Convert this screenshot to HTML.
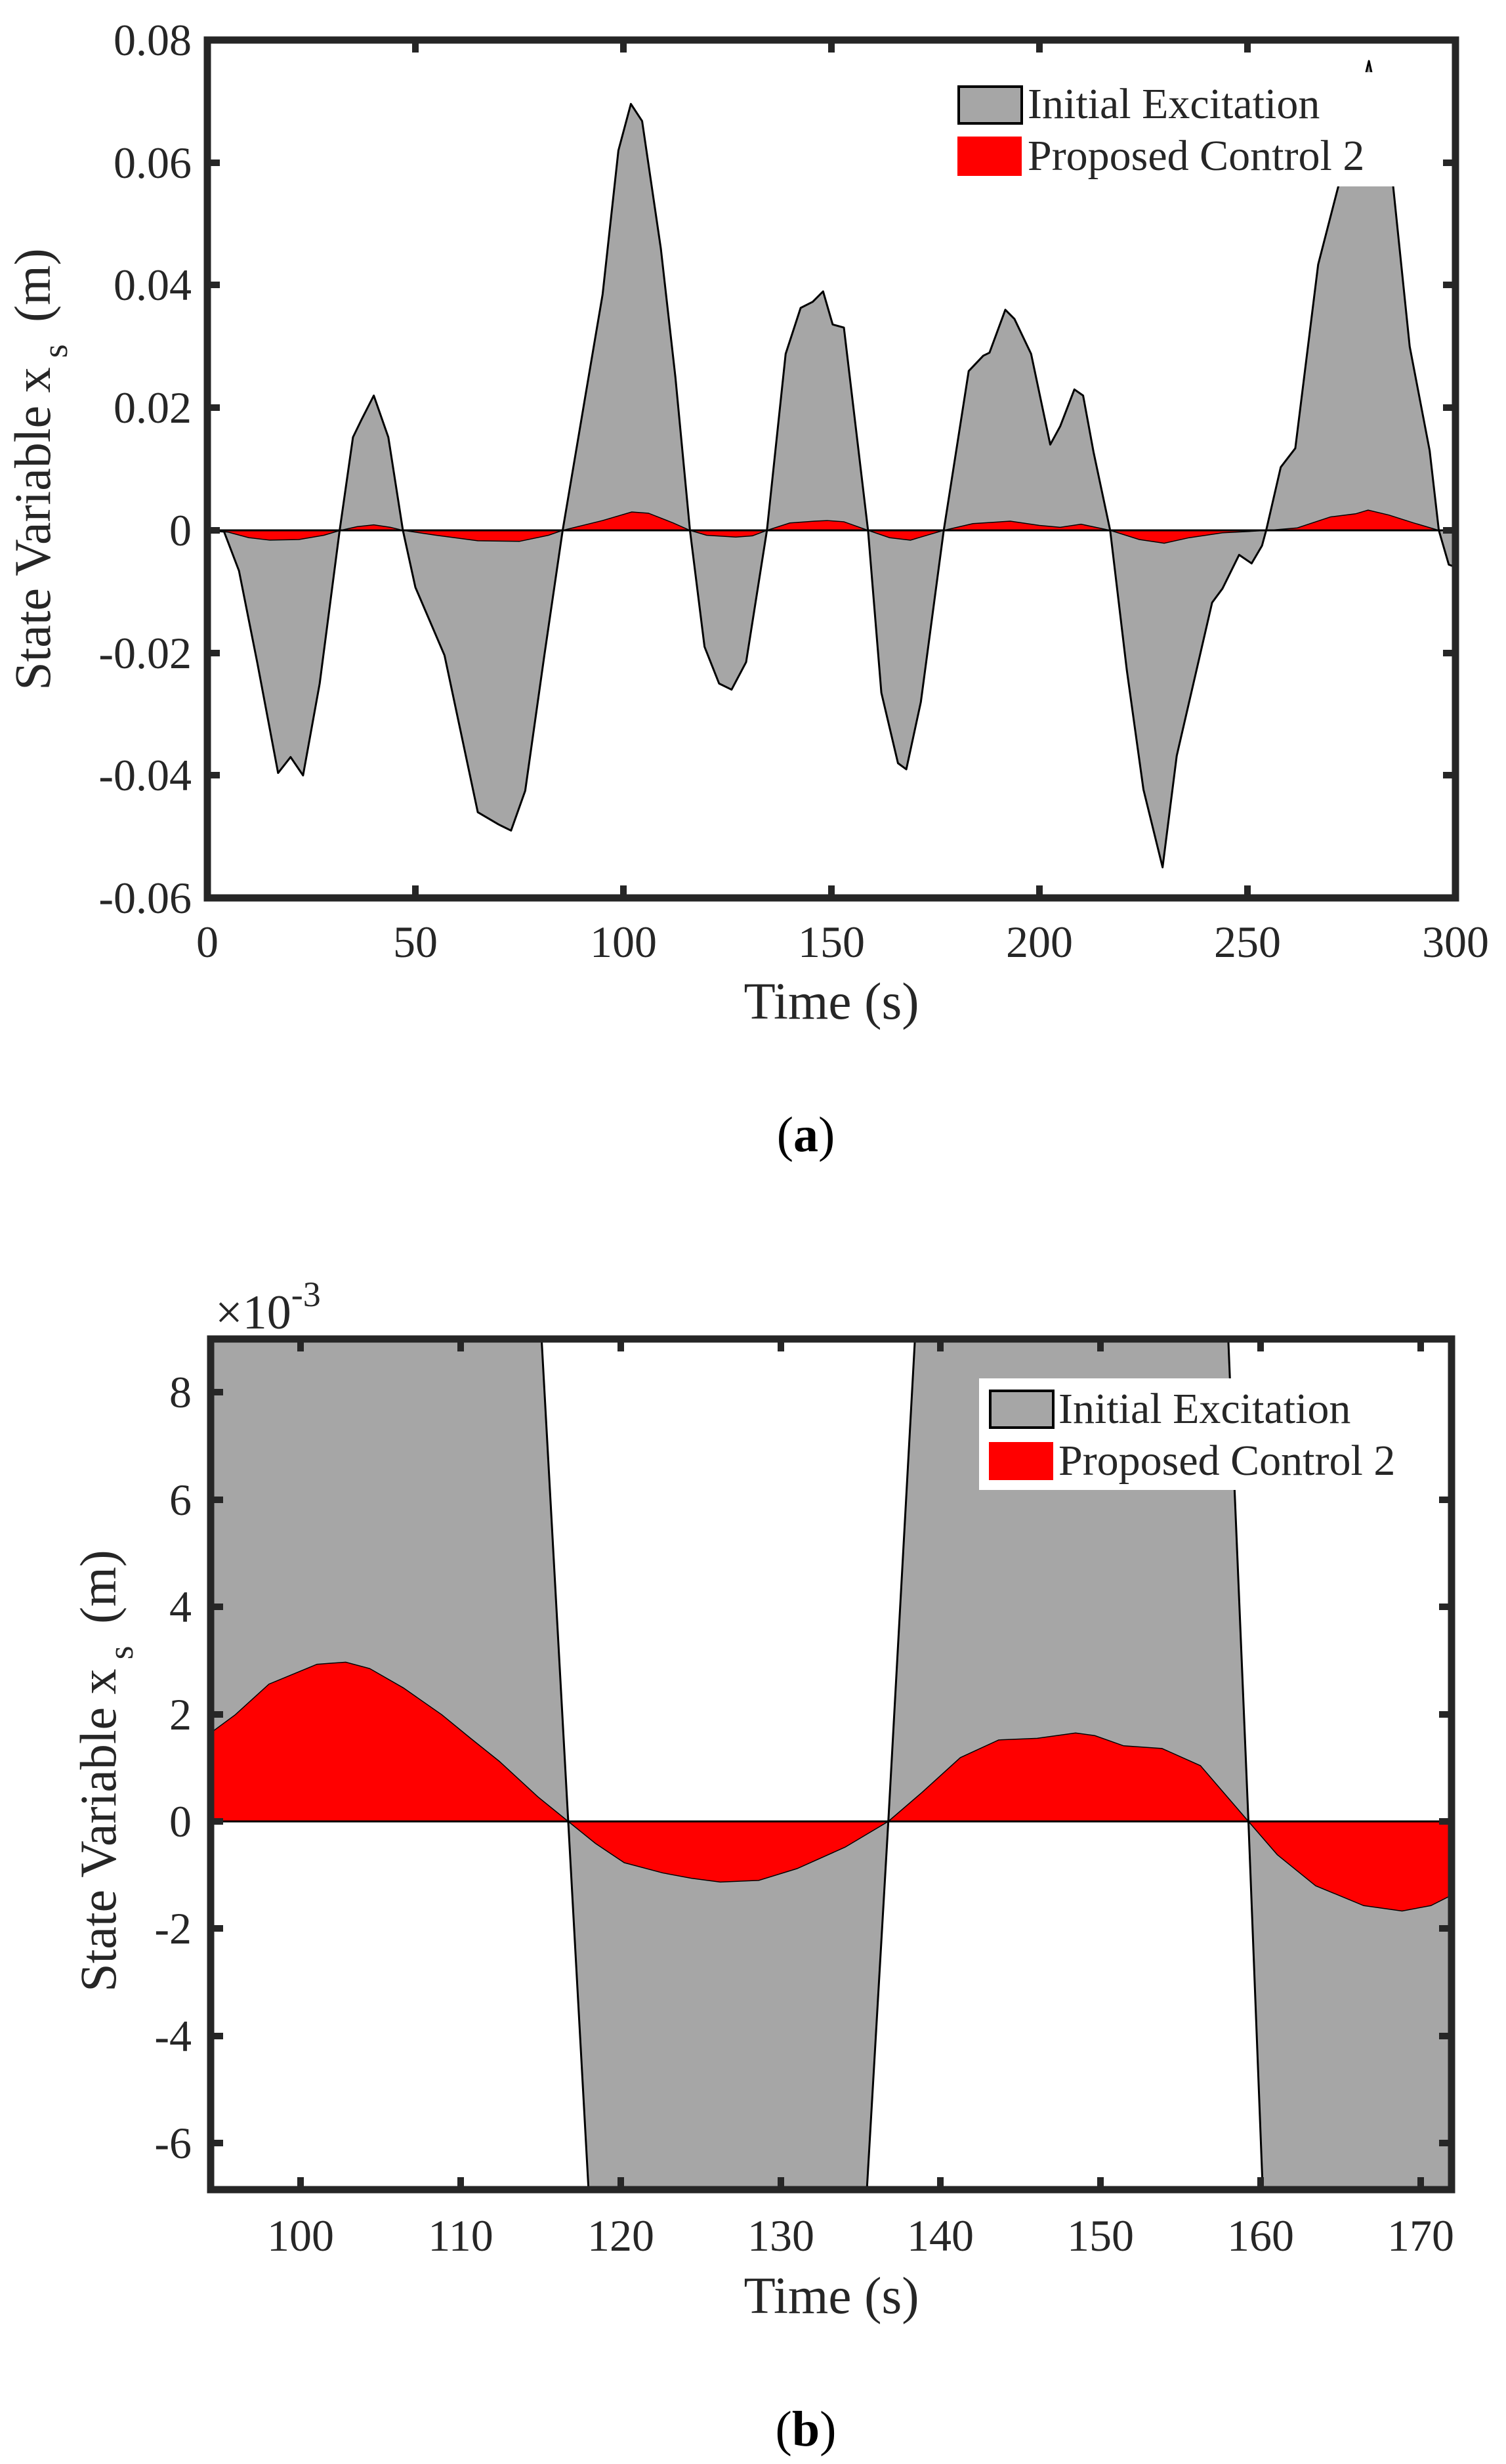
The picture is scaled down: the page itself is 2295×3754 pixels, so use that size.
<!DOCTYPE html>
<html><head><meta charset="utf-8"><style>
html,body{margin:0;padding:0;background:#fff;overflow:hidden}
svg{display:block}
text{font-family:"Liberation Serif",serif;fill:#262626}
</style></head><body>
<svg width="2295" height="3754" viewBox="0 0 2295 3754" xmlns="http://www.w3.org/2000/svg">
<defs>
<clipPath id="c1"><rect x="316" y="61" width="1902" height="1307"/></clipPath>
<clipPath id="c2"><rect x="321" y="2040" width="1891" height="1296"/></clipPath>
</defs>
<rect width="2295" height="3754" fill="#fff"/>

<!-- TOP PLOT -->
<g clip-path="url(#c1)">
<g transform="matrix(6.34,0,0,-9335,316,808)">
<polygon fill="#a6a6a6" stroke="#000" stroke-width="3" vector-effect="non-scaling-stroke" stroke-linejoin="round" points="0,0 4,-0.0002 7.6,-0.0066 12,-0.0216 17,-0.0396 20,-0.037 23,-0.040 27,-0.025 31.8,0 35,0.0152 37,0.018 40,0.022 43.5,0.0152 47,0 50,-0.0093 57,-0.0204 65,-0.046 70,-0.048 73,-0.049 76.4,-0.0425 81,-0.0204 85.4,0 90.7,0.0213 95,0.0385 98.8,0.062 101.8,0.0696 104.5,0.0668 109,0.046 112.5,0.025 116,0 119.5,-0.019 123,-0.025 126,-0.026 129.5,-0.0215 134.5,0 139,0.0288 142.6,0.0363 145.5,0.0373 148,0.039 150.3,0.0336 153,0.0331 158.8,0 162,-0.0265 166,-0.038 168,-0.039 171.5,-0.028 177,0 183,0.026 186.5,0.0285 188,0.029 191.8,0.036 194,0.0345 198,0.0288 202.6,0.014 205,0.017 208.4,0.023 210.5,0.022 213,0.0128 217,0 221,-0.0228 225,-0.0423 229.6,-0.055 233,-0.0368 241.5,-0.0118 244,-0.0095 248,-0.004 251,-0.0054 253.5,-0.0025 254.5,0 258,0.0103 261.5,0.0134 267,0.0434 271.9,0.0563 276.5,0.069 279.2,0.0766 282,0.068 285,0.0563 289,0.030 293.8,0.013 296,0 298.4,-0.0056 300,-0.006 300,0"/>
<polygon fill="#ff0000" stroke="#000" stroke-width="1.5" vector-effect="non-scaling-stroke" points="0,0 5,-0.0003 10,-0.0012 15,-0.0016 22,-0.0015 28,-0.0008 32,0 36,0.0006 40,0.0009 44,0.0005 47,0 55,-0.0008 65,-0.0017 75,-0.0018 82,-0.0008 85.4,0 95,0.0016 102,0.003 106,0.0028 112,0.0012 116,0 120,-0.0008 127,-0.0011 131,-0.0009 134.5,0 140,0.0012 146,0.0015 149,0.0016 153,0.0014 158.8,0 164,-0.0012 169,-0.0016 173,-0.0008 177,0 184,0.0011 193,0.0015 200,0.0008 205,0.0005 210,0.001 217,0 224,-0.0015 230,-0.0021 236,-0.0012 244,-0.0004 250,-0.0002 255,0 262,0.0004 270,0.0022 276,0.0027 279,0.0033 284,0.0025 290,0.0012 296,0 300,0"/>
</g>
<line x1="316" y1="808" x2="2218" y2="808" stroke="#000" stroke-width="3"/>
</g>
<g stroke="#262626" stroke-width="10">
<path d="M633,1368v-19M950,1368v-19M1267,1368v-19M1584,1368v-19M1901,1368v-19
M633,61v19M950,61v19M1267,61v19M1584,61v19M1901,61v19
M316,248h19M316,434h19M316,621h19M316,808h19M316,995h19M316,1181h19
M2218,248h-19M2218,434h-19M2218,621h-19M2218,808h-19M2218,995h-19M2218,1181h-19"/>
</g>
<rect x="1447" y="110" width="713" height="174" fill="#fff"/>
<rect x="1461" y="132" width="96" height="56" fill="#a6a6a6" stroke="#000" stroke-width="4"/>
<rect x="1459" y="208" width="98" height="60" fill="#ff0000"/>
<text x="1566" y="180" font-size="66">Initial Excitation</text>
<text x="1566" y="259" font-size="66">Proposed Control 2</text>
<rect x="316" y="61" width="1902" height="1307" fill="none" stroke="#262626" stroke-width="11"/>
<g font-size="68" text-anchor="end">
<text x="292" y="84">0.08</text>
<text x="292" y="271">0.06</text>
<text x="292" y="457">0.04</text>
<text x="292" y="644">0.02</text>
<text x="292" y="831">0</text>
<text x="292" y="1018">-0.02</text>
<text x="292" y="1204">-0.04</text>
<text x="292" y="1391">-0.06</text>
</g>
<g font-size="68" text-anchor="middle">
<text x="316" y="1458">0</text>
<text x="633" y="1458">50</text>
<text x="950" y="1458">100</text>
<text x="1267" y="1458">150</text>
<text x="1584" y="1458">200</text>
<text x="1901" y="1458">250</text>
<text x="2218" y="1458">300</text>
</g>
<text x="1267" y="1552" font-size="79" text-anchor="middle">Time (s)</text>
<text transform="translate(76,715) rotate(-90)" font-size="78" text-anchor="middle">State Variable x<tspan font-size="54" dx="14" dy="26">s</tspan><tspan dx="14" dy="-26"> (m)</tspan></text>
<text x="1228" y="1754" font-size="76" text-anchor="middle" style="fill:#000">(<tspan font-weight="bold">a</tspan>)</text>

<!-- BOTTOM PLOT -->
<g clip-path="url(#c2)">
<g transform="matrix(24.39,0,0,-81.7,-1980.4,2775)">
<polygon fill="#a6a6a6" stroke="#000" stroke-width="3" vector-effect="non-scaling-stroke" points="94.36,0 94.36,20 113.0,20 116.7,0 120.4,-20 132.8,-20 136.7,0 140.4,20 156.4,20 159.2,0 161.8,-20 172,-20 172,0"/>
<polygon fill="#ff0000" stroke="#000" stroke-width="1.5" vector-effect="non-scaling-stroke" points="94.36,0 94.36,1.65 95.9,1.99 98,2.56 101,2.93 102.8,2.97 104.3,2.85 106.4,2.49 108.8,1.99 110.6,1.55 112.4,1.12 114.8,0.46 116.7,0 118.4,-0.41 120.2,-0.77 122.6,-0.96 124.4,-1.06 126.2,-1.13 128.6,-1.10 131,-0.88 134,-0.48 136.7,0 138.8,0.54 141.2,1.19 143.6,1.52 146,1.55 148.4,1.65 149.6,1.6 151.4,1.41 153.8,1.36 156.2,1.04 159.2,0 161,-0.62 163.4,-1.2 166.4,-1.57 168.8,-1.67 170.6,-1.57 171.8,-1.39 172,-1.3 172,0"/>
</g>
<line x1="321" y1="2775" x2="2212" y2="2775" stroke="#000" stroke-width="3"/>
</g>
<g stroke="#262626" stroke-width="10">
<path d="M458,3336v-19M702,3336v-19M946,3336v-19M1190,3336v-19M1433,3336v-19M1677,3336v-19M1921,3336v-19M2165,3336v-19
M458,2040v19M702,2040v19M946,2040v19M1190,2040v19M1433,2040v19M1677,2040v19M1921,2040v19M2165,2040v19
M321,3265h19M321,3102h19M321,2938h19M321,2775h19M321,2612h19M321,2448h19M321,2285h19M321,2121h19
M2212,3265h-19M2212,3102h-19M2212,2938h-19M2212,2775h-19M2212,2612h-19M2212,2448h-19M2212,2285h-19M2212,2121h-19"/>
</g>
<rect x="1492" y="2100" width="720" height="170" fill="#fff"/>
<rect x="1509" y="2119" width="96" height="56" fill="#a6a6a6" stroke="#000" stroke-width="4"/>
<rect x="1507" y="2197" width="98" height="58" fill="#ff0000"/>
<text x="1613" y="2168" font-size="66">Initial Excitation</text>
<text x="1613" y="2247" font-size="66">Proposed Control 2</text>
<rect x="321" y="2040" width="1891" height="1296" fill="none" stroke="#262626" stroke-width="11"/>
<g font-size="68" text-anchor="end">
<text x="292" y="3288">-6</text>
<text x="292" y="3125">-4</text>
<text x="292" y="2961">-2</text>
<text x="292" y="2798">0</text>
<text x="292" y="2635">2</text>
<text x="292" y="2471">4</text>
<text x="292" y="2308">6</text>
<text x="292" y="2144">8</text>
</g>
<text x="328" y="2024" font-size="74">×10<tspan font-size="54" dy="-34">-3</tspan></text>
<g font-size="68" text-anchor="middle">
<text x="458" y="3429">100</text>
<text x="702" y="3429">110</text>
<text x="946" y="3429">120</text>
<text x="1190" y="3429">130</text>
<text x="1433" y="3429">140</text>
<text x="1677" y="3429">150</text>
<text x="1921" y="3429">160</text>
<text x="2165" y="3429">170</text>
</g>
<text x="1267" y="3524" font-size="79" text-anchor="middle">Time (s)</text>
<text transform="translate(176,2698) rotate(-90)" font-size="78" text-anchor="middle">State Variable x<tspan font-size="54" dx="14" dy="26">s</tspan><tspan dx="14" dy="-26"> (m)</tspan></text>
<text x="1228" y="3726" font-size="76" text-anchor="middle" style="fill:#000">(<tspan font-weight="bold">b</tspan>)</text>
</svg>
</body></html>
